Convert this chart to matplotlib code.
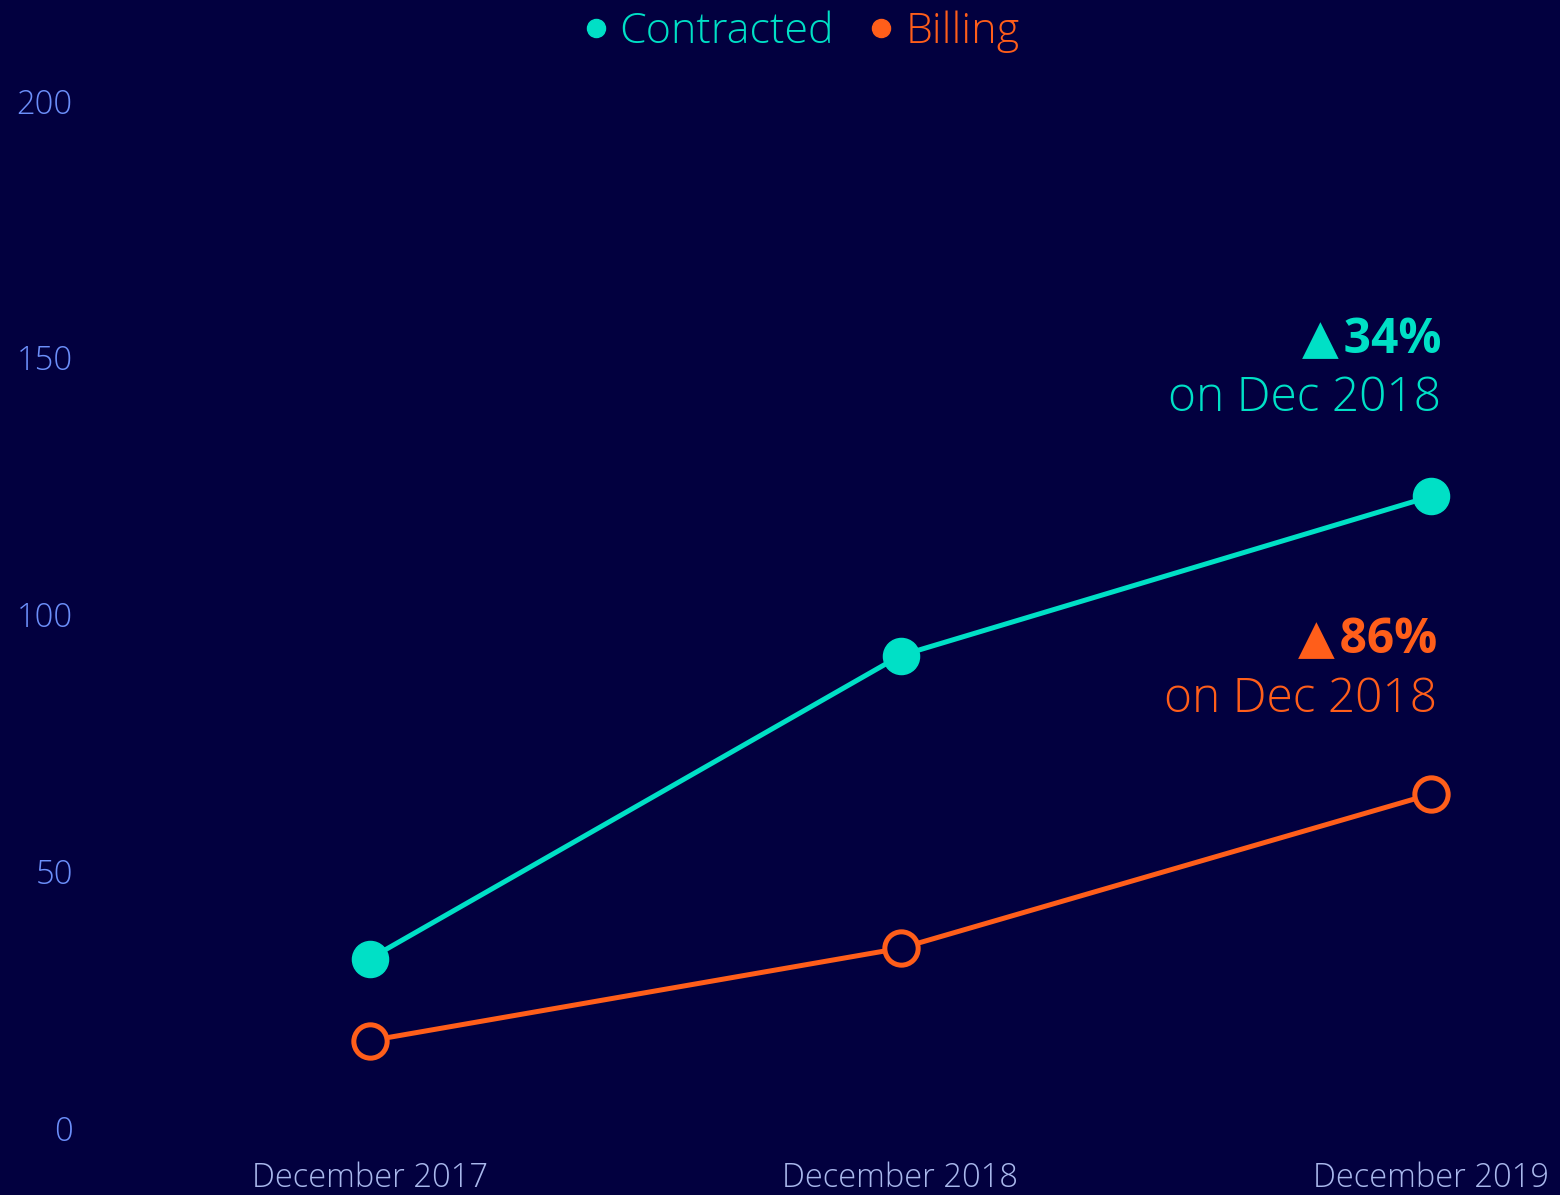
import matplotlib
matplotlib.use("Agg")
import matplotlib.pyplot as plt
from matplotlib.lines import Line2D

categories = ["December 2017", "December 2018", "December 2019"]
contracted = [33, 92, 123]
billing = [17, 35, 65]
yticks = [0, 50, 100, 150, 200]
contracted_note = ("▲\u200a34%", "on Dec 2018")
billing_note = ("▲\u200a86%", "on Dec 2018")

BG = "#02003F"
TEAL = "#00E0C6"
ORANGE = "#FF5E1A"
YTICK = "#6C8FFA"
XTICK = "#A9B8EC"
FAM = ["Open Sans", "DejaVu Sans"]

plt.rcParams["font.family"] = FAM

fig = plt.figure(figsize=(15.6, 11.95), dpi=100, facecolor=BG)
ax = fig.add_axes([0.06, 0.0561, 0.93, 0.8594])
ax.set_facecolor(BG)

x = list(range(len(categories)))
ax.plot(x, contracted, color=TEAL, lw=3.6, marker="o", ms=26, mfc=TEAL, mec=TEAL,
        clip_on=False, zorder=3)
ax.plot(x, billing, color=ORANGE, lw=3.6, marker="o", ms=24, mfc=BG, mec=ORANGE,
        mew=3.6, clip_on=False, zorder=3)

ppu = (1431 - 370) / 2
left_px = 0.06 * 1560
right_px = left_px + 0.93 * 1560
ax.set_xlim((left_px - 370) / ppu, 2 + (right_px - 1431) / ppu)
ax.set_ylim(0, 200)
ax.set_yticks(yticks)
ax.set_yticklabels([str(v) for v in yticks])
ax.set_xticks(x)
ax.set_xticklabels(categories)
ax.tick_params(axis="y", length=0, pad=15, labelsize=23.5, labelcolor=YTICK)
ax.tick_params(axis="x", length=0, pad=24, labelsize=23.5, labelcolor=XTICK)
for lab in ax.get_xticklabels() + ax.get_yticklabels():
    lab.set_fontweight("light")
for s in ax.spines.values():
    s.set_visible(False)

def note(xp, yb1, yb2, txt, color):
    fig.text(xp / 1560, 1 - yb1 / 1195, txt[0], color=color, fontsize=34.5,
             fontweight="bold", ha="right", va="baseline", family=FAM)
    fig.text(xp / 1560, 1 - yb2 / 1195, txt[1], color=color, fontsize=34.5,
             fontweight="light", ha="right", va="baseline", family=FAM)

note(1441, 353, 411, contracted_note, TEAL)
note(1437, 653, 712, billing_note, ORANGE)

handles = [Line2D([], [], ls="none", marker="o", ms=13, mfc=TEAL, mec=TEAL),
           Line2D([], [], ls="none", marker="o", ms=13, mfc=ORANGE, mec=ORANGE)]
leg = fig.legend(handles, ["Contracted", "Billing"], loc="upper center",
                 bbox_to_anchor=(0.5135, 1.0235), ncol=2, frameon=False,
                 handlelength=0.6, handletextpad=0.25,
                 columnspacing=0.8, labelcolor="markerfacecolor",
                 prop={"family": FAM, "weight": "light", "size": 31})

fig.savefig("out.png", dpi=100, facecolor=BG)
